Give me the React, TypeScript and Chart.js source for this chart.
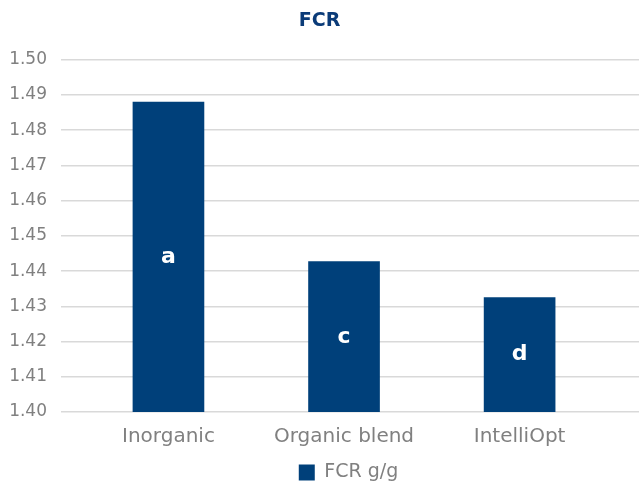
import React, { useEffect, useRef } from "react";
import { Chart, registerables } from "chart.js";

Chart.register(...registerables);

const categories = ["Inorganic", "Organic blend", "IntelliOpt"];
const fcrValues = [1.488, 1.4427, 1.4325];
const letters = ["a", "c", "d"];
const seriesName = "FCR g/g";
const chartTitle = "FCR";

const BAR = "#00407a";
const GRAY = "#808080";
const FONT = "'DejaVu Sans', sans-serif";

const letterPlugin = {
  id: "barLetters",
  afterLayout(chart: any) {
    if (chart.legend) {
      chart.legend.left += 29;
      chart.legend.right += 29;
      chart.legend.top += 5;
      chart.legend.bottom += 5;
    }
  },
  afterDatasetsDraw(chart: any) {
    const meta = chart.getDatasetMeta(0);
    const ctx = chart.ctx;
    const bottom = chart.chartArea.bottom;
    ctx.save();
    ctx.fillStyle = "#ffffff";
    ctx.font = `bold 22px ${FONT}`;
    ctx.textAlign = "center";
    ctx.textBaseline = "middle";
    meta.data.forEach((el: any, i: number) => {
      const p = el.getProps(["x", "y", "base"], true);
      const base = Math.min(p.base, bottom);
      const y = (p.y + base) / 2;
      ctx.fillText(letters[i], p.x, y);
    });
    ctx.restore();
  },
};

export default function App() {
  const ref = useRef<HTMLCanvasElement | null>(null);
  useEffect(() => {
    document.body.style.margin = "0";
    const chart = new Chart(ref.current!, {
      type: "bar",
      data: {
        datasets: [
          {
            label: seriesName,
            data: fcrValues.map((v, i) => ({ x: i, y: v })),
            backgroundColor: BAR,
            borderWidth: 0,
            barThickness: 71,
          },
        ],
      },
      plugins: [letterPlugin],
      options: {
        animation: false,
        responsive: false,
        maintainAspectRatio: false,
        layout: { padding: { left: 0, right: 0, top: 0, bottom: 0 } },
        plugins: {
          title: {
            display: true,
            text: chartTitle,
            color: "#0b3b78",
            font: { family: FONT, size: 19, weight: "bold" },
            padding: { top: 10, bottom: 27 },
          },
          legend: {
            position: "bottom",
            labels: {
              boxWidth: 16,
              boxHeight: 16,
              color: GRAY,
              font: { family: FONT, size: 19 },
              padding: 4,
            },
          },
          tooltip: { enabled: false },
        },
        scales: {
          x: {
            type: "linear",
            offset: false,
            min: -0.612,
            max: 2.68,
            grid: { display: false },
            border: { display: false },
            afterBuildTicks: (scale: any) => {
              scale.ticks = categories.map((_, i) => ({ value: i }));
            },
            ticks: {
              color: GRAY,
              font: { family: FONT, size: 20 },
              padding: 5,
              maxRotation: 0,
              autoSkip: false,
              callback: (v: any) => categories[v] ?? "",
            },
          },
          y: {
            min: 1.4,
            max: 1.5,
            grid: { color: "#d9d9d9", lineWidth: 1.5, drawTicks: false },
            border: { display: false },
            afterFit: (scale: any) => {
              scale.width = 61;
            },
            ticks: {
              stepSize: 0.01,
              color: GRAY,
              padding: 14,
              font: { family: FONT, size: 17 },
              callback: (v: any) => Number(v).toFixed(2),
            },
          },
        },
      },
    });
    return () => chart.destroy();
  }, []);
  return (
    <div style={{ position: "fixed", left: 0, top: 0, width: 639, height: 487 }}>
      <canvas ref={ref} width={639} height={487} style={{ width: 639, height: 487 }} />
    </div>
  );
}
